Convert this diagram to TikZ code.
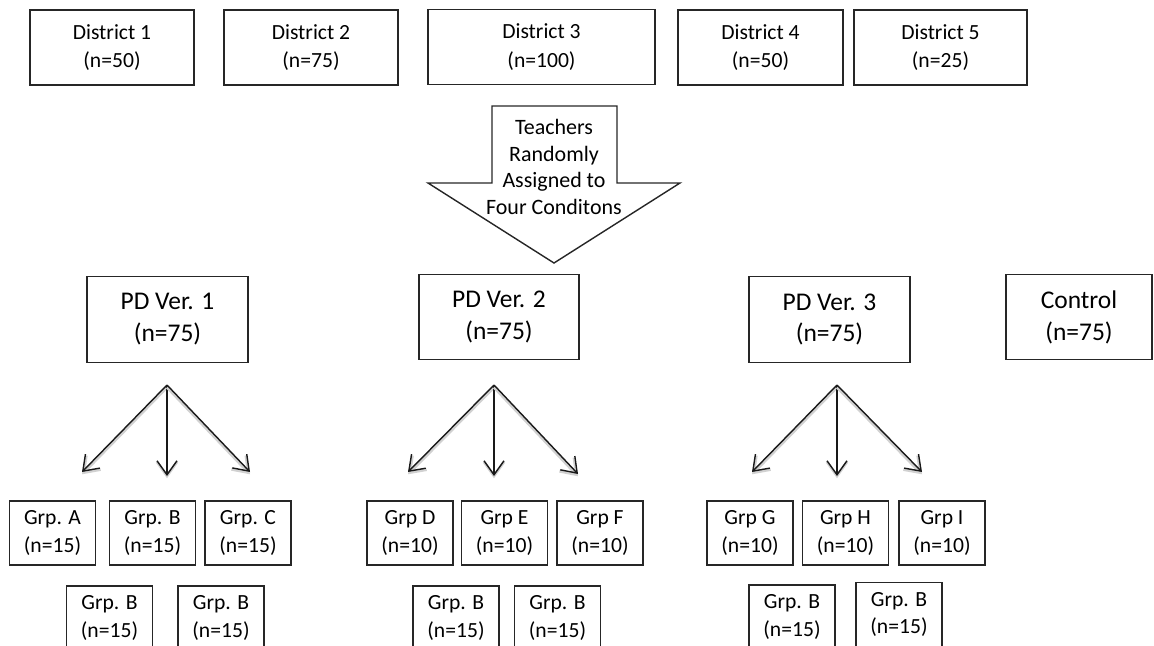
\documentclass[tikz,border=0pt]{standalone}
\usepackage{fontspec}
\setmainfont{Carlito}
\usetikzlibrary{arrows.meta}

\begin{document}
\begin{tikzpicture}[x=0.02cm,y=-0.02cm,
    splitarr/.style={draw=black!90,line width=0.8pt,-{Straight Barb[length=2.8mm,width=4mm]},
        preaction={draw=black!18,line width=1.6pt,transform canvas={yshift=-1.3pt}}}]
\useasboundingbox (0,0) rectangle (1154,646);
\clip (0,0) rectangle (1154,646);
%\tikzstyle{box}=[draw,align=center]
\begin{scope}[every node/.style={draw=black!85,line width=0.8pt,align=center,inner sep=0pt,minimum height=1.5cm,font=\fontsize{12.3}{16.2}\selectfont}]
    \node[minimum width=3.28cm] (d1) at (112,47.5) {District 1\\(n=50)};
    \node[minimum width=3.48cm] (d2) at (311,47.5) {District 2\\(n=75)};
    \node[minimum width=4.54cm] (d3) at (541.5,47) {District 3\\(n=100)};
    \node[minimum width=3.30cm] (d4) at (760.5,47.5) {District 4\\(n=50)};
    \node[minimum width=3.46cm] (d5) at (940.5,47.5) {District 5\\(n=25)};
\end{scope}

% big arrow
\draw[draw=black!85,line width=0.8pt] (492,106) -- (617,106) -- (617,183) -- (680,183) -- (554,263) -- (428,183) -- (492,183) -- cycle;
\node[align=center,font=\fontsize{12.5}{15.2}\selectfont] (assign) at (554,167) {Teachers\\Randomly\\Assigned to\\Four Conditons};

\begin{scope}[every node/.style={draw=black!85,line width=0.8pt,align=center,inner sep=0pt,minimum height=1.71cm,font=\fontsize{14.5}{18.2}\selectfont}]
    \node[minimum width=3.22cm] (pd1) at (167.5,319.5) {PD Ver. 1\\(n=75)};
    \node[minimum width=3.20cm] (pd2) at (499,317) {PD Ver. 2\\(n=75)};
    \node[minimum width=3.22cm] (pd3) at (829.5,319.5) {PD Ver. 3\\(n=75)};
    \node[minimum width=2.92cm] (ctrl) at (1079,317) {Control\\(n=75)};
\end{scope}

% split arrows
\coordinate (t1) at (167,385);
\coordinate (l1) at (82,472);
\coordinate (m1) at (167,476);
\coordinate (r1) at (250,472);
\coordinate (t2) at (494,385);
\coordinate (l2) at (408,472);
\coordinate (m2) at (494,476);
\coordinate (r2) at (578,474);
\coordinate (t3) at (837,385);
\coordinate (l3) at (752,472);
\coordinate (m3) at (837,476);
\coordinate (r3) at (922,472);
\path (t1) edge[splitarr] (l1);
\path (t1) edge[splitarr] (m1);
\path (t1) edge[splitarr] (r1);
\path (t2) edge[splitarr] (l2);
\path (t2) edge[splitarr] (m2);
\path (t2) edge[splitarr] (r2);
\path (t3) edge[splitarr] (l3);
\path (t3) edge[splitarr] (m3);
\path (t3) edge[splitarr] (r3);

\begin{scope}[every node/.style={draw=black!85,line width=0.8pt,align=center,inner sep=0pt,minimum width=1.72cm,minimum height=1.28cm,font=\fontsize{12.3}{15.4}\selectfont}]
    \node (ga) at (52.5,533) {Grp. A\\(n=15)};
    \node (gb) at (152.5,533) {Grp. B\\(n=15)};
    \node (gc) at (248,533) {Grp. C\\(n=15)};
    \node (gd) at (410,533) {Grp D\\(n=10)};
    \node (ge) at (504.5,533) {Grp E\\(n=10)};
    \node (gf) at (600,533) {Grp F\\(n=10)};
    \node (gg) at (750,533) {Grp G\\(n=10)};
    \node (gh) at (845.5,533) {Grp H\\(n=10)};
    \node (gi) at (942,533) {Grp I\\(n=10)};
    
    \node (b1) at (109.5,618) {Grp. B\\(n=15)};
    \node (b2) at (221,618) {Grp. B\\(n=15)};
    \node (b3) at (456,618) {Grp. B\\(n=15)};
    \node (b4) at (557.5,618) {Grp. B\\(n=15)};
    \node (b5) at (792,617) {Grp. B\\(n=15)};
    \node (b6) at (899,614.5) {Grp. B\\(n=15)};
\end{scope}
\end{tikzpicture}
\end{document}
